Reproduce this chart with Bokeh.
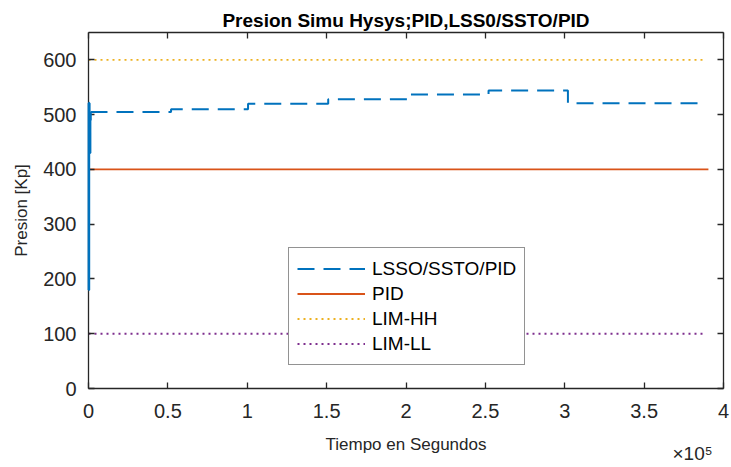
from bokeh.plotting import figure
from bokeh.models import FixedTicker, LinearAxis, Legend, LegendItem
from bokeh.embed import file_html
from bokeh.resources import INLINE

# ---- data ----
t_lsso = [0, 250, 500, 750, 1000, 1250, 52000, 100500, 151000, 202000, 252000, 302000, 387000]
p_lsso = [180, 521, 470, 430, 490, 505, 510, 520, 528, 537, 544, 521, 521]
n_transient = 6  # first samples: start-up transient
t_pid = [0, 390500]
p_pid = [400, 400]
t_lim = [0, 387500]
p_hh = [600, 600]
p_ll = [100, 100]

x_ticks = [0, 50000, 100000, 150000, 200000, 250000, 300000, 350000, 400000]
x_tick_labels = ["0", "0.5", "1", "1.5", "2", "2.5", "3", "3.5", "4"]
y_ticks = [0, 100, 200, 300, 400, 500, 600]

title = "Presion Simu Hysys;PID,LSS0/SSTO/PID"
x_label = "Tiempo en Segundos"
y_label = "Presion [Kp]"
x_exponent = "\u00d710\u2075"
names = ["LSSO/SSTO/PID", "PID", "LIM-HH", "LIM-LL"]

BLUE = "#0072BD"
ORANGE = "#D95319"
YELLOW = "#EDB120"
PURPLE = "#7E2F8E"
AX = "#262626"
FONT = "Liberation Sans"

p = figure(width=731, height=467, x_range=(0, 400000), y_range=(0, 650),
           output_backend="svg", toolbar_location=None,
           min_border_left=88, min_border_right=8, min_border_top=32, min_border_bottom=79)
p.grid.visible = False
p.outline_line_color = None
p.background_fill_color = "white"
p.border_fill_color = "white"

p.title.text = title
p.title.align = "center"
p.title.text_font = FONT
p.title.text_font_size = "19px"
p.title.text_font_style = "bold"
p.title.text_color = "black"
p.title.standoff = 4


def style_axis(ax):
    ax.axis_line_color = AX
    ax.axis_line_width = 1.3
    ax.major_tick_line_color = AX
    ax.major_tick_line_width = 1.3
    ax.major_tick_in = 6
    ax.major_tick_out = 0
    ax.minor_tick_line_color = None
    ax.major_label_text_font = FONT
    ax.major_label_text_font_size = "20px"
    ax.major_label_text_color = AX
    ax.axis_label_text_font = FONT
    ax.axis_label_text_font_size = "17px"
    ax.axis_label_text_font_style = "normal"
    ax.axis_label_text_color = AX


style_axis(p.xaxis[0])
style_axis(p.yaxis[0])
p.xaxis[0].ticker = FixedTicker(ticks=x_ticks)
p.xaxis[0].major_label_overrides = {t: s for t, s in zip(x_ticks, x_tick_labels)}
p.xaxis[0].major_label_standoff = 15
p.yaxis[0].ticker = FixedTicker(ticks=y_ticks)
p.yaxis[0].major_label_standoff = 12
p.yaxis[0].axis_label = y_label
p.yaxis[0].axis_label_standoff = 9

# x-axis title as its own (tick-less) axis row
xl = LinearAxis(ticker=FixedTicker(ticks=[200000]), major_label_overrides={200000: x_label})
xl.axis_line_color = None
xl.major_tick_line_color = None
xl.minor_tick_line_color = None
xl.major_label_standoff = 8
xl.major_label_text_font = FONT
xl.major_label_text_font_size = "17px"
xl.major_label_text_color = AX
p.add_layout(xl, "below")

# x10^5 exponent row
xe = LinearAxis(ticker=FixedTicker(ticks=[380500]), major_label_overrides={380500: x_exponent})
xe.axis_line_color = None
xe.major_tick_line_color = None
xe.minor_tick_line_color = None
xe.major_label_standoff = -20
xe.major_label_text_font = FONT
xe.major_label_text_font_size = "19px"
xe.major_label_text_color = AX
p.add_layout(xe, "below")

# box: tick marks on top and right, no labels
top = LinearAxis(ticker=FixedTicker(ticks=x_ticks), major_label_overrides={t: "" for t in x_ticks})
right = LinearAxis(ticker=FixedTicker(ticks=y_ticks), major_label_overrides={t: "" for t in y_ticks})
for ax in (top, right):
    ax.axis_line_color = AX
    ax.axis_line_width = 1.3
    ax.major_tick_line_color = AX
    ax.major_tick_line_width = 1.3
    ax.major_tick_in = 6
    ax.major_tick_out = 0
    ax.minor_tick_line_color = None
    ax.major_label_text_font_size = "0px"
    ax.major_label_standoff = 0
p.add_layout(top, "above")
p.add_layout(right, "right")

# start-up transient (dense samples render as a solid trace), then the dashed steps
p.step(t_lsso[:n_transient], p_lsso[:n_transient], mode="after",
       line_color=BLUE, line_width=2.6, level="overlay")
r1 = p.step(t_lsso[n_transient - 1:], p_lsso[n_transient - 1:], mode="after",
            line_color=BLUE, line_width=2, line_dash="17 9")
r2 = p.line(t_pid, p_pid, line_color=ORANGE, line_width=1.8)
r3 = p.line(t_lim, p_hh, line_color=YELLOW, line_width=1.8, line_dash="2 4")
r4 = p.line(t_lim, p_ll, line_color=PURPLE, line_width=1.8, line_dash="2 4")

legend = Legend(items=[LegendItem(label=n, renderers=[r]) for n, r in zip(names, [r1, r2, r3, r4])],
                location=(200, 23))
legend.label_text_font = FONT
legend.label_text_font_size = "19px"
legend.label_text_color = "black"
legend.label_height = 25
legend.glyph_height = 25
legend.glyph_width = 68
legend.label_standoff = 7
legend.spacing = 0
legend.padding = 8
legend.margin = 0
legend.border_line_color = AX
legend.border_line_width = 1.3
legend.background_fill_color = "white"
legend.background_fill_alpha = 1
p.add_layout(legend, "center")

open("out.html", "w").write(file_html(p, INLINE))
